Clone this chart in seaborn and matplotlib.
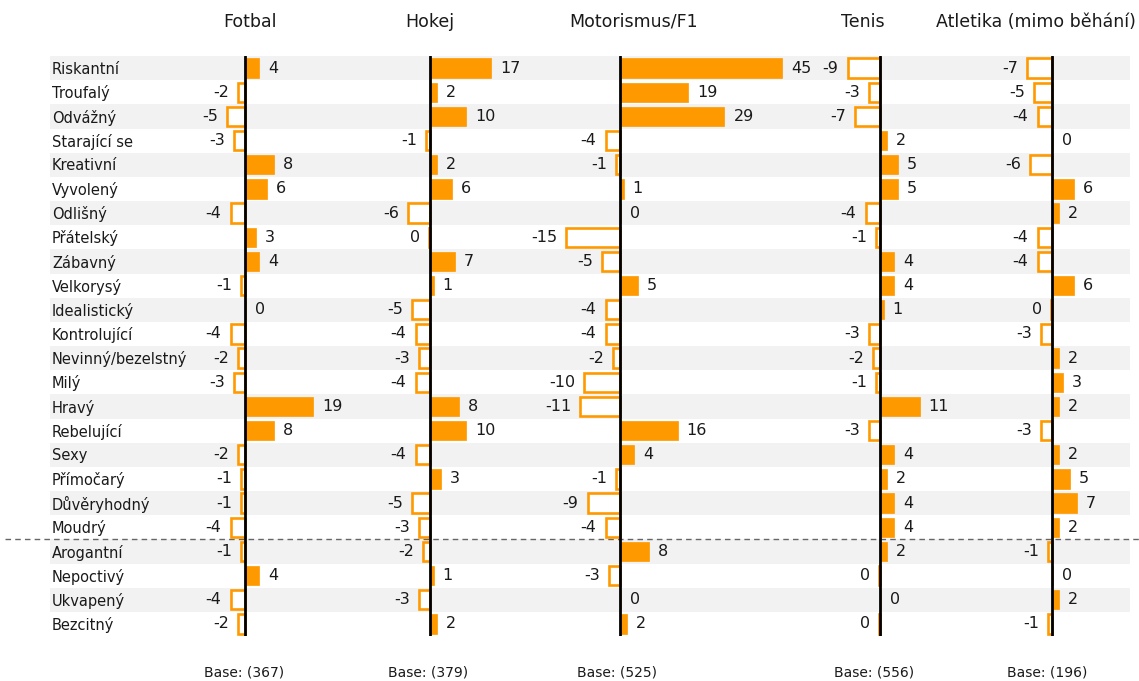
import matplotlib
matplotlib.use("Agg")
import matplotlib.pyplot as plt
import numpy as np
import pandas as pd
import seaborn as sns

# ---------------- data ----------------
traits = ["Riskantní", "Troufalý", "Odvážný", "Starající se", "Kreativní", "Vyvolený",
          "Odlišný", "Přátelský", "Zábavný", "Velkorysý", "Idealistický", "Kontrolující",
          "Nevinný/bezelstný", "Milý", "Hravý", "Rebelující", "Sexy", "Přímočarý",
          "Důvěryhodný", "Moudrý", "Arogantní", "Nepoctivý", "Ukvapený", "Bezcitný"]

sports = ["Fotbal", "Hokej", "Motorismus/F1", "Tenis", "Atletika (mimo běhání)"]

fotbal = [4, -2, -5, -3, 8, 6, -4, 3, 4, -1, 0.3, -4, -2, -3, 19, 8, -2, -1, -1, -4,
          -1, 4, -4, -2]
hokej = [17, 2, 10, -1, 2, 6, -6, -0.3, 7, 1, -5, -4, -3, -4, 8, 10, -4, 3, -5, -3,
         -2, 1, -3, 2]
motorismus = [45, 19, 29, -4, -1, 1, 0.3, -15, -5, 5, -4, -4, -2, -10, -11, 16, 4, -1, -9, -4,
              8, -3, 0.3, 2]
tenis = [-9, -3, -7, 2, 5, 5, -4, -1, 4, 4, 1, -3, -2, -1, 11, -3, 4, 2, 4, 4,
         2, -0.3, 0.3, -0.3]
atletika = [-7, -5, -4, 0.3, -6, 6, 2, -4, -4, 6, -0.3, -3, 2, 3, 2, -3, 2, 5, 7, 2,
            -1, 0.3, 2, -1]

bases = [367, 379, 525, 556, 196]
series = [fotbal, hokej, motorismus, tenis, atletika]

# ---------------- layout (pixels) ----------------
W, H = 1139, 681
TOP, BOT = 56, 636
PANEL_BOUNDS = [195, 365, 525, 815, 975, 1135]
ZEROS = [245, 430, 620, 880, 1052]
SCALE = 3.6  # pixels per unit
TITLE_X = [250, 430, 634, 863, 1036]
BASE_X = [244, 428, 617, 874, 1047]

ORANGE = "#ff9900"
STRIPE = "#f2f2f2"
TXT = "#1a1a1a"

sns.set_theme(style="white")
plt.rcParams['font.family'] = ['DejaVu Sans']

fig = plt.figure(figsize=(W / 100, H / 100), dpi=100)
fig.patch.set_facecolor("white")

def fy(py):
    return 1 - py / H

n = len(traits)

# background axes: stripes, row labels, separator
bg = fig.add_axes([0, fy(BOT), 1, (BOT - TOP) / H])
bg.set_xlim(0, W)
bg.set_ylim(n - 0.5, -0.5)
bg.axis("off")
for i in range(0, n, 2):
    bg.axhspan(i - 0.5, i + 0.5, xmin=50 / W, xmax=1130 / W, color=STRIPE, lw=0, zorder=0)
for i, t in enumerate(traits):
    bg.text(52, i + 0.05, t, va="center", ha="left", fontsize=10.5, color=TXT)
bg.plot([5, W], [19.5, 19.5], color="#666666", lw=1, ls=(0, (4, 3)), zorder=5)

# panels
for k, (name, vals) in enumerate(zip(sports, series)):
    l, r = PANEL_BOUNDS[k], PANEL_BOUNDS[k + 1]
    z = ZEROS[k]
    ax = fig.add_axes([l / W, fy(BOT), (r - l) / W, (BOT - TOP) / H])
    ax.patch.set_alpha(0)
    df = pd.DataFrame({"trait": traits, "value": vals})
    sns.barplot(data=df, x="value", y="trait", orient="h", ax=ax, width=0.8,
                color=ORANGE, saturation=1, errorbar=None)
    for p, v in zip(ax.patches, vals):
        if v < 0:
            p.set_facecolor("white")
            p.set_edgecolor(ORANGE)
            p.set_linewidth(1.9)
        else:
            p.set_facecolor(ORANGE)
            p.set_edgecolor(ORANGE)
            p.set_linewidth(0.5)
    ax.set_xlim((l - z) / SCALE, (r - z) / SCALE)
    ax.set_ylim(n - 0.5, -0.5)
    ax.axvline(0, color="black", lw=2, zorder=4)
    for i, v in enumerate(vals):
        lab = f"{int(round(v))}"
        if v >= 0:
            ax.annotate(lab, xy=(v, i), xytext=(6.5, 0), textcoords="offset points",
                        ha="left", va="center", fontsize=11.5, color=TXT)
        else:
            ax.annotate(lab, xy=(v, i), xytext=(-6.5, 0), textcoords="offset points",
                        ha="right", va="center", fontsize=11.5, color=TXT)
    ax.set_xlabel("")
    ax.set_ylabel("")
    ax.set_xticks([])
    ax.set_yticks([])
    for s in ax.spines.values():
        s.set_visible(False)

    fig.text(TITLE_X[k] / W, fy(22), name, ha="center", va="center", fontsize=12.5, color=TXT)
    fig.text(BASE_X[k] / W, fy(672), f"Base: ({bases[k]})", ha="center", va="center",
             fontsize=10, color=TXT)

fig.savefig("out.png", dpi=100, facecolor="white")
